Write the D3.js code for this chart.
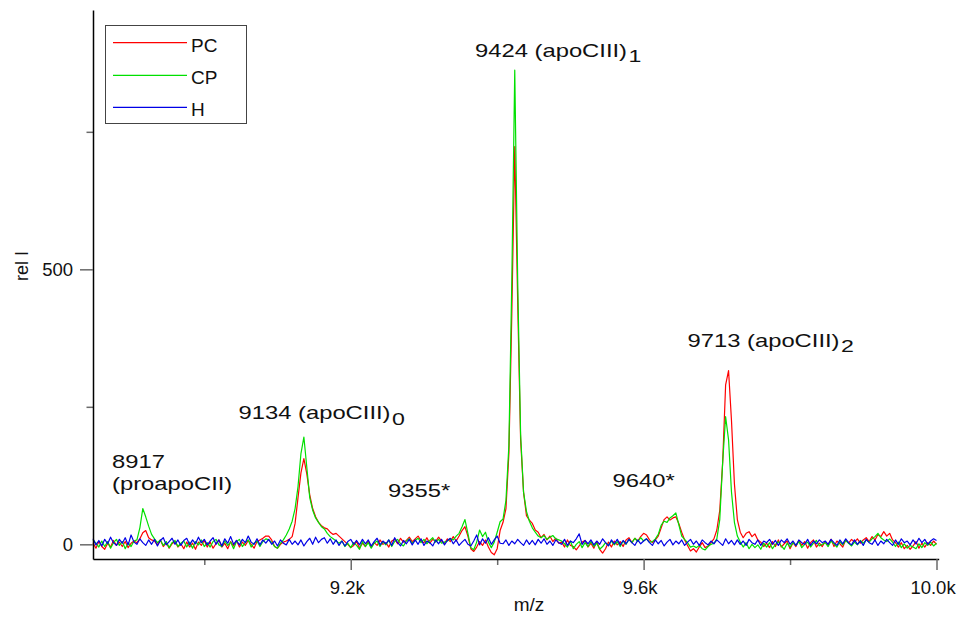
<!DOCTYPE html>
<html>
<head>
<meta charset="utf-8">
<script src="https://cdn.jsdelivr.net/npm/d3@7"></script>
<style>
  html, body { margin: 0; padding: 0; background: #fff; }
  svg { display: block; font-family: "Liberation Sans", Arial, Helvetica, sans-serif; }
</style>
</head>
<body>
<svg id="chart" width="960" height="619"></svg>
<script>
// Spectra sampled on a regular m/z grid
const mzStart = 8848;
const mzStep = 4;

const seriesNames = ["PC", "CP", "H"];

// PC — rows of ten samples, first m/z of each row in the comment
const PC = [
  3, -7, 5, -4, -9, 2, -5, 7, -2, 4,          // 8848
  -4, 5, -6, 2, 6, 3, 10, 21, 25, 12,         // 8888
  8, 6, -1, 8, -4, 3, -7, 1, 5, -5,           // 8928
  1, -8, 4, -5, 2, -9, 4, -2, 7, -5,          // 8968
  4, -7, 1, 8, -5, 2, -8, 5, -3, 7,           // 9008
  -5, 4, -2, 7, 0, -7, 5, 8, 11, 15,          // 9048
  15, 8, -4, -7, 0, 4, 6, 9, 14, 38,          // 9088
  85, 130, 156, 128, 90, 65, 50, 40, 34, 30,  // 9128
  28, 22, 18, 20, 15, 10, 5, 0, -6, -2,       // 9168
  5, -7, 2, -4, 6, -5, 3, -2, 8, 0,           // 9208
  3, -5, 6, 9, 1, 11, 4, 7, 13, 5,            // 9248
  10, 15, 6, 3, 12, 2, 9, 5, 13, 6,           // 9288
  2, 10, 5, 14, 6, 15, 25, 32, 15, -8,        // 9328
  -13, -5, 5, -2, 8, -5, -15, -19, -8, 25,    // 9368
  40, 65, 165, 420, 723, 440, 190, 95, 52, 44,// 9408
  38, 26, 22, 12, 18, 8, 15, 5, 11, 2,        // 9448
  4, -5, 8, -2, -4, -10, -3, 4, 7, -5,        // 9488
  2, -7, 5, -9, -16, -8, 4, -5, 6, -1,        // 9528
  5, -4, 8, 12, 3, 11, 6, 14, 20, 17,         // 9568
  8, 3, 8, 15, 30, 45, 50, 44, 48, 50,        // 9608
  38, 22, 8, -2, -12, -8, -14, -5, 3, -6,     // 9648
  -3, 3, 10, 26, 62, 150, 290, 316, 225, 110, // 9688
  45, 22, 12, 20, 23, 14, 19, 8, 4, -4,       // 9728
  2, -6, 5, -4, 8, -5, 1, 6, -8, 3,           // 9768
  -4, 7, -2, 5, -7, 3, 8, -5, 2, -4,          // 9808
  5, -1, 9, -4, 6, 1, -5, 8, 2, 9,            // 9848
  4, 10, 2, 8, 12, 5, 14, 8, 18, 14,          // 9888
  23, 15, 20, 8, 3, -5, 3, -8, -2, -9,        // 9928
  -3, 5, -7, 2, -5, 3, -2, 6, 0               // 9968
];

// CP
const CP = [
  8, 2, -5, 6, -4, 5, -7, 3, 9, -2,           // 8848
  5, -8, 3, -4, 6, 8, 30, 65, 50, 33,         // 8888
  18, 10, 3, 8, -2, 5, -6, 3, 7, -4,          // 8928
  2, 6, -5, 4, -7, 5, -1, 8, -4, 3,           // 8968
  -5, 5, 9, -1, -4, 6, -2, 4, -8, 5,          // 9008
  9, -4, 3, 8, -5, 2, 6, -4, 5, 10,           // 9048
  8, 4, -4, -7, 2, 8, 17, 28, 42, 65,         // 9088
  105, 165, 195, 140, 85, 62, 48, 40, 32, 28, // 9128
  20, 14, 10, 6, 2, 6, -4, 2, -6, 3,          // 9168
  -2, -9, 5, -4, 3, -7, 2, 6, -4, 5,          // 9208
  -1, 8, -4, 5, 9, 1, -3, 6, 10, 2,           // 9248
  7, 11, 3, 9, 1, 7, 12, 4, 9, 2,             // 9288
  4, 6, 10, 8, 15, 20, 32, 45, 20, -6,        // 9328
  -10, 4, 26, 14, 22, 4, -6, 4, 22, 41,       // 9368
  46, 80, 180, 480, 862, 480, 200, 95, 60, 42,// 9408
  30, 22, 15, 12, 16, 9, 13, 16, 10, 8,       // 9448
  6, 1, -5, 6, -8, 0, 5, -6, 3, -4,           // 9488
  5, -4, 2, -9, -4, 3, -2, 6, -1, 5,          // 9528
  -4, 6, 0, 9, 3, 11, 5, 12, 6, 10,           // 9568
  4, 5, 10, 18, 35, 42, 40, 48, 52, 57,       // 9608
  36, 15, 9, 3, -5, -3, -6, -2, -8, -10,      // 9648
  -4, 0, 2, 10, 45, 150, 232, 190, 95, 40,    // 9688
  15, 4, -5, 3, -8, 0, -6, -1, -9, 2,         // 9728
  -5, 3, -8, 0, 5, -3, -9, 2, -5, 3,          // 9768
  -2, 5, -6, 0, 4, -5, 2, 7, -3, 0,           // 9808
  3, -4, 6, 1, -5, 5, -1, 7, 2, -3,           // 9848
  4, -1, 7, 2, 8, 4, 10, 14, 20, 12,          // 9888
  8, 5, 10, 4, -4, 4, -6, 1, -7, -2,          // 9928
  -5, -8, 1, -6, 3, -2, 4, -3, 2              // 9968
];

// H
const H = [
  10, -1, 7, -3, 9, 1, 13, 3, -2, 9,          // 8848
  2, 12, -1, 17, 4, 0, 10, 3, -2, 8,          // 8888
  0, 9, -3, 7, 12, -1, 5, 11, 0, 8,           // 8928
  -2, 7, 11, -1, 8, 1, 13, 3, 9, -1,          // 8968
  6, 12, 0, 8, -3, 10, 2, 14, 0, 7,           // 9008
  -1, 9, 3, 15, 4, 0, 10, -1, 8, 2,           // 9048
  9, 0, 6, -3, 8, 2, -1, 9, 0, 6,             // 9088
  -1, 8, -3, 5, 11, 0, 13, 3, 9, 12,          // 9128
  2, 10, 0, 8, -2, 6, -3, 5, 9, 0,            // 9168
  7, -1, 9, 1, 8, -3, 5, 11, -1, 6,           // 9208
  1, 8, -2, 12, 3, -3, 7, 1, 9, -1,           // 9248
  8, 0, 10, -2, 6, 3, -3, 8, 1, 9,            // 9288
  -1, 7, 11, 1, 8, -2, 4, 9, 0, -3,           // 9328
  6, 17, -1, 10, 2, 12, 0, 8, 15, 2,          // 9368
  1, 8, -2, 6, 1, 9, 3, -2, 8, 0,             // 9408
  7, -1, 9, 2, 10, 0, 6, -2, 8, 3,            // 9448
  0, 9, -2, 6, 3, 10, 19, 0, 7, 1,            // 9488
  8, -1, 6, 0, 10, 3, -3, 8, 1, 9,            // 9528
  -1, 7, 1, 9, 3, -2, 8, 1, 6, 10,            // 9568
  3, -2, 8, 1, 7, -3, 4, 9, -1, 6,            // 9608
  1, 8, -2, 4, 9, 0, 6, -2, 8, 3,             // 9648
  -1, 6, 1, 8, 3, -2, 10, 1, 7, -1,           // 9688
  8, 0, 6, -2, 9, 3, 0, 8, -2, 6,             // 9728
  3, 9, 0, 7, -2, 8, 3, 10, 0, 6,             // 9768
  -2, 8, 3, 0, 9, -2, 6, 1, 8, 3,             // 9808
  6, 0, 9, 3, -2, 8, 1, 10, 3, -1,            // 9848
  8, 0, 6, -2, 9, 3, 0, 8, -2, 6,             // 9888
  1, 9, 3, -2, 8, 0, 10, 3, 6, -1,            // 9928
  8, 1, 11, 3, 9, 0, 6, 10, 7                 // 9968
];

// Axis ticks and labels
const xTicksMajor = [9200, 9600, 10000];
const xTickLabels = ["9.2k", "9.6k", "10.0k"];
const xTicksMinor = [9000, 9400, 9800];
const yTicksMajor = [0, 500];
const yTickLabels = ["0", "500"];
const yTicksMinor = [250, 750];

// Peak annotations: text lines and subscript
const peakText = [
  ["8917", "(proapoCII)"],
  ["9134 (apoCIII)"],
  ["9355*"],
  ["9424 (apoCIII)"],
  ["9640*"],
  ["9713 (apoCIII)"]
];
const peakSub = ["", "0", "", "1", "", "2"];

// ---------------------------------------------------------------
const plot = { left: 93, right: 938.7, top: 10, bottom: 559 };

const svg = d3.select("#chart");

const x = d3.scaleLinear().domain([8848, 10003]).range([plot.left, plot.right]);
const y = d3.scaleLinear().domain([-26.7, 971.5]).range([plot.bottom, plot.top]);

const colors = { PC: "#ff0000", CP: "#00e000", H: "#0000e6" };
const seriesData = { PC: PC, CP: CP, H: H };

// traces
const line = d3.line()
  .x((d, i) => x(mzStart + i * mzStep))
  .y(d => y(d));

const drawOrder = ["PC", "CP", "H"];
svg.append("g").selectAll("path")
  .data(drawOrder)
  .join("path")
  .attr("fill", "none")
  .attr("stroke", k => colors[k])
  .attr("stroke-width", 1.2)
  .attr("stroke-linejoin", "round")
  .attr("d", k => line(seriesData[k]));

// axes
function styleAxis(g, fontSize) {
  g.attr("font-family", null).attr("font-size", null);
  g.selectAll(".tick line").attr("stroke", "#6a6a6a").attr("stroke-width", 1.5);
  g.selectAll(".tick text").attr("fill", "#111").style("font-size", fontSize + "px");
}

const gxMinor = svg.append("g").attr("transform", `translate(0,${plot.bottom})`)
  .call(d3.axisBottom(x).tickValues(xTicksMinor).tickFormat("").tickSize(6).tickSizeOuter(0));
gxMinor.select(".domain").remove();
styleAxis(gxMinor, 18);

const gx = svg.append("g").attr("transform", `translate(0,${plot.bottom})`)
  .call(d3.axisBottom(x).tickValues(xTicksMajor)
    .tickFormat((d, i) => xTickLabels[i]).tickSize(11).tickPadding(11).tickSizeOuter(0));
styleAxis(gx, 18.5);
gx.selectAll(".tick text").attr("dx", -4);
gx.select(".domain").attr("stroke", "#000").attr("stroke-width", 1.5);

const gyMinor = svg.append("g").attr("transform", `translate(${plot.left},0)`)
  .call(d3.axisLeft(y).tickValues(yTicksMinor).tickFormat("").tickSize(6.5).tickSizeOuter(0));
gyMinor.select(".domain").remove();
styleAxis(gyMinor, 18);

const gy = svg.append("g").attr("transform", `translate(${plot.left},0)`)
  .call(d3.axisLeft(y).tickValues(yTicksMajor)
    .tickFormat((d, i) => yTickLabels[i]).tickSize(13).tickPadding(7).tickSizeOuter(0));
styleAxis(gy, 18.5);
gy.select(".domain").attr("stroke", "#000").attr("stroke-width", 1.5);

// axis titles
svg.append("text")
  .attr("transform", "translate(28,266) rotate(-90)")
  .attr("text-anchor", "middle")
  .attr("font-size", 18)
  .attr("fill", "#111")
  .text("rel I");

svg.append("text")
  .attr("x", 529).attr("y", 611)
  .attr("text-anchor", "middle")
  .attr("font-size", 19)
  .attr("fill", "#111")
  .text("m/z");

// legend
const legend = svg.append("g");
legend.append("rect")
  .attr("x", 105.5).attr("y", 25.5).attr("width", 141).attr("height", 98)
  .attr("fill", "#fff").attr("stroke", "#444").attr("stroke-width", 1);
const legendRows = [42.7, 75.3, 107.3];
seriesNames.forEach((name, i) => {
  legend.append("line")
    .attr("x1", 113).attr("x2", 187)
    .attr("y1", legendRows[i]).attr("y2", legendRows[i])
    .attr("stroke", colors[name]).attr("stroke-width", 1.2);
  legend.append("text")
    .attr("x", 191).attr("y", legendRows[i] + 9)
    .attr("font-size", 19)
    .attr("fill", "#111")
    .text(name);
});

// peak annotations (wide lettering)
const peakLabelPos = [[112, 468], [238.5, 419], [388, 497], [475, 56.7], [612.5, 486.7], [687.5, 346.7]];
const labelStretch = 1.36;
peakText.forEach((lines, i) => {
  const [lx, ly] = peakLabelPos[i];
  lines.forEach((txt, j) => {
    const t = svg.append("text")
      .attr("transform", `translate(${lx},${ly + j * 22}) scale(${labelStretch},1)`)
      .attr("font-size", 17.5)
      .attr("fill", "#111");
    t.append("tspan").text(txt);
    if (j === lines.length - 1 && peakSub[i]) {
      t.append("tspan").attr("dx", 1).attr("dy", 5.5).attr("font-size", 17).text(peakSub[i]);
    }
  });
});
</script>
</body>
</html>
